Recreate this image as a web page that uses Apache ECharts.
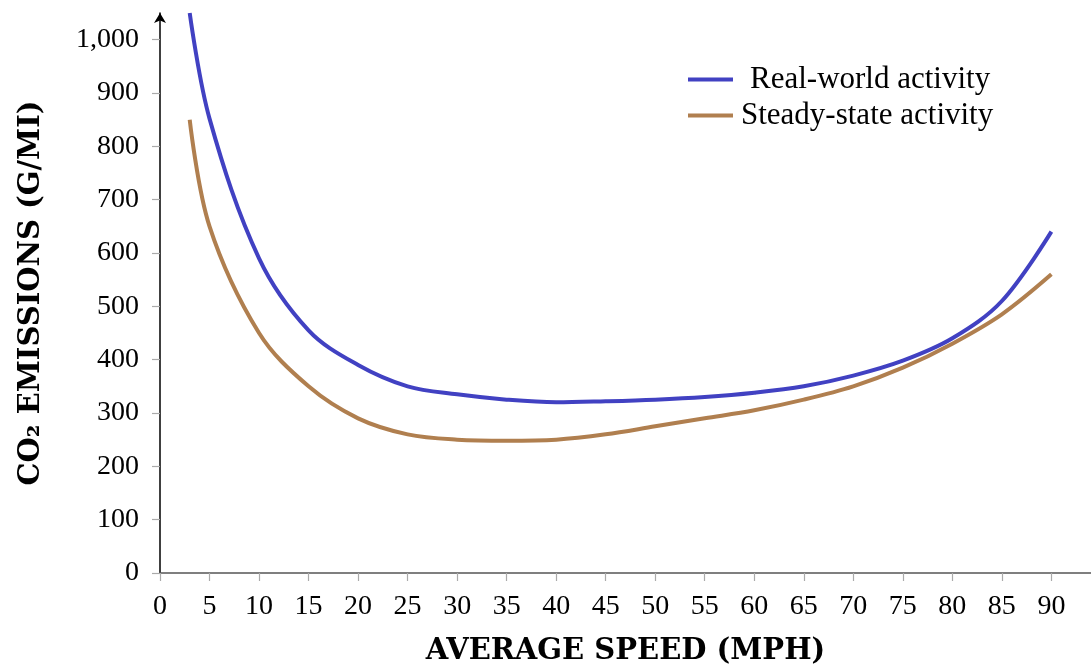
<!DOCTYPE html>
<html>
<head>
<meta charset="utf-8">
<script src="https://cdn.jsdelivr.net/npm/echarts@6/dist/echarts.min.js"></script>
<style>
  html, body { margin: 0; padding: 0; background: #fff; }
  #chart { width: 1091px; height: 666px; }
</style>
</head>
<body>
<div id="chart"></div>
<script>
// Average speed (mph) at which emissions were evaluated
const speeds = [3, 5, 10, 15, 20, 25, 30, 35, 40, 45, 50, 55, 60, 65, 70, 75, 80, 85, 90];
// CO2 emissions (g/mi)
const realWorld = [1050, 852, 590, 455, 390, 350, 335, 325, 320, 322, 325, 330, 338, 350, 370, 398, 440, 510, 640];
const steadyState = [850, 650, 450, 350, 290, 260, 250, 248, 250, 260, 275, 290, 305, 325, 350, 385, 430, 485, 560];
const seriesNames = ['Real-world activity', 'Steady-state activity'];
const xTicks = [0, 5, 10, 15, 20, 25, 30, 35, 40, 45, 50, 55, 60, 65, 70, 75, 80, 85, 90];

const FONT = '"Liberation Serif", "DejaVu Serif", serif';
const TITLE_FONT = '"DejaVu Serif", "Liberation Serif", serif';
const BLUE = '#4141c2';
const BROWN = '#b07f4f';

const pairs = (xs, ys) => xs.map((x, i) => [x, ys[i]]);

const chart = echarts.init(document.getElementById('chart'), null, { renderer: 'canvas' });
chart.setOption({
  animation: false,
  backgroundColor: '#fff',
  grid: { left: 160, right: 0, top: 13, bottom: 93, outerBoundsMode: 'none', containLabel: false },
  legend: [
    {
      data: [seriesNames[0]], left: 683, top: 59, orient: 'vertical',
      icon: 'rect', itemWidth: 45, itemHeight: 4,
      textStyle: { fontFamily: FONT, fontSize: 31, color: '#000', padding: [0, 0, 0, 12] }
    },
    {
      data: [seriesNames[1]], left: 683, top: 95, orient: 'vertical',
      icon: 'rect', itemWidth: 45, itemHeight: 4,
      textStyle: { fontFamily: FONT, fontSize: 31, color: '#000', padding: [0, 0, 0, 3] }
    }
  ],
  xAxis: {
    type: 'value', min: 0, max: 94, interval: 5,
    name: 'AVERAGE SPEED (MPH)', nameLocation: 'middle', nameGap: 64,
    nameTextStyle: { fontFamily: TITLE_FONT, fontSize: 29, fontWeight: 'bold', color: '#000',
      verticalAlign: 'top' },
    axisLine: { show: true, lineStyle: { color: '#555', width: 1.5 } },
    axisTick: { show: true, length: 8, lineStyle: { color: '#aaa', width: 1.2 },
      customValues: xTicks },
    axisLabel: { fontFamily: FONT, fontSize: 28, color: '#000', margin: 20,
      customValues: xTicks },
    splitLine: { show: false }
  },
  yAxis: {
    type: 'value', min: 0, max: 1050, interval: 100,
    name: 'CO₂ EMISSIONS (G/MI)', nameLocation: 'middle', nameGap: 114, nameRotate: 90,
    nameTextStyle: { fontFamily: TITLE_FONT, fontSize: 29, fontWeight: 'bold', color: '#000' },
    axisLine: { show: true, symbol: ['none', 'arrow'], symbolSize: [9, 10],
      lineStyle: { color: '#000', width: 1.5 } },
    axisTick: { show: true, length: 8, lineStyle: { color: '#aaa', width: 1.2 } },
    axisLabel: { fontFamily: FONT, fontSize: 28, color: '#000', margin: 21,
      formatter: v => v.toLocaleString('en-US'), showMaxLabel: false },
    splitLine: { show: false }
  },
  series: [
    {
      name: seriesNames[0], type: 'line', data: pairs(speeds, realWorld),
      smooth: 0.35, showSymbol: false, clip: true,
      lineStyle: { color: BLUE, width: 4 }, itemStyle: { color: BLUE }
    },
    {
      name: seriesNames[1], type: 'line', data: pairs(speeds, steadyState),
      smooth: 0.35, showSymbol: false, clip: true,
      lineStyle: { color: BROWN, width: 4 }, itemStyle: { color: BROWN }
    }
  ]
});
</script>
</body>
</html>
